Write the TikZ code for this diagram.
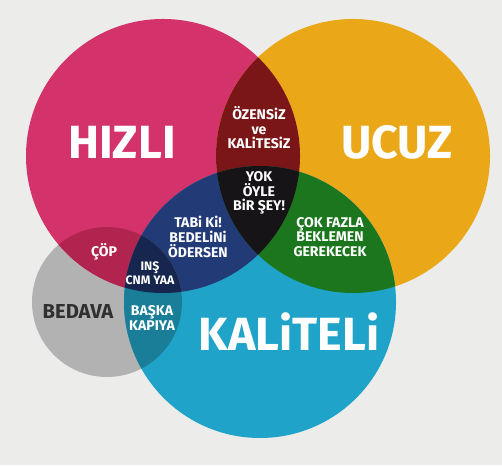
\documentclass[tikz,border=0pt]{standalone}
\usepackage{fontspec}
\setmainfont{Fira Sans}
\usepackage{xcolor}
\definecolor{papercolor}{RGB}{236,236,235}
\definecolor{hizlicolor}{RGB}{211,50,106}
\definecolor{ucuzcolor}{RGB}{234,168,24}
\definecolor{kalitecolor}{RGB}{32,163,200}
\definecolor{bedavacolor}{RGB}{178,178,178}
\definecolor{ozensizcolor}{RGB}{122,22,24}
\definecolor{bedelcolor}{RGB}{34,58,118}
\definecolor{beklecolor}{RGB}{28,118,30}
\definecolor{yokcolor}{RGB}{22,20,22}
\definecolor{copcolor}{RGB}{178,36,80}
\definecolor{kapicolor}{RGB}{26,126,152}
\definecolor{inscolor}{RGB}{22,38,78}
\definecolor{bedavatextcolor}{RGB}{48,48,48}

\newcommand{\hizlicircle}{(163,309) circle (137)}
\newcommand{\ucuzcircle}{(353,309) circle (137)}
\newcommand{\kalitecircle}{(260,163) circle (136)}
\newcommand{\bedavacircle}{(107,163) circle (75)}

\begin{document}
\begin{tikzpicture}[x=0.02cm, y=0.02cm]
  \tikzset{
    biglabel/.style={
      text=white,
      font=\fontsize{26.5}{26.5}\selectfont\bfseries,
      anchor=center
    },
    smalllabel/.style={
      text=white,
      align=center,
      font=\fontsize{8}{8.3}\selectfont\bfseries,
      anchor=center,
      inner sep=0pt
    },
    tinylabel/.style={
      text=white,
      align=center,
      font=\fontsize{7}{6.6}\selectfont\bfseries,
      anchor=center,
      inner sep=0pt
    }
  }

  % Paper
  \fill[papercolor] (0,0) rectangle (502,465);
  \useasboundingbox (0,0) rectangle (502,465);

  % Draw the four circles
  \fill[bedavacolor] \bedavacircle;
  \fill[hizlicolor] \hizlicircle;
  \fill[ucuzcolor] \ucuzcircle;
  \fill[kalitecolor] \kalitecircle;

  % Overlaps of two circles
  \begin{scope}
    \clip \hizlicircle;
    \fill[ozensizcolor] \ucuzcircle;
    \fill[bedelcolor] \kalitecircle;
    \fill[copcolor] \bedavacircle;
  \end{scope}
  \begin{scope}
    \clip \ucuzcircle;
    \fill[beklecolor] \kalitecircle;
  \end{scope}
  \begin{scope}
    \clip \bedavacircle;
    \fill[kapicolor] \kalitecircle;
  \end{scope}

  % Overlaps of three circles
  \begin{scope}
    \clip \hizlicircle;
    \clip \kalitecircle;
    \fill[yokcolor] \ucuzcircle;
    \fill[inscolor] \bedavacircle;
  \end{scope}

  % Labels
  \node[biglabel] (hizli) at (122,323) {HIZLI};
  \node[biglabel] (ucuz) at (397,323) {UCUZ};
  \node[biglabel] (kaliteli) at (289,133) {KALiTELi};
  \node[biglabel, text=bedavatextcolor, font=\fontsize{11.5}{11.5}\selectfont\bfseries] (bedava) at (78,153) {BEDAVA};

  \node[smalllabel] (ozensiz) at (259,337) {ÖZENSiZ\\ve\\KALiTESiZ};
  \node[smalllabel] (yok) at (259,272) {YOK\\ÖYLE\\BiR ŞEY!};
  \node[smalllabel] (bedel) at (198,228) {TABi Ki!\\BEDELiNi\\ÖDERSEN};
  \node[smalllabel] (bekle) at (330,228) {ÇOK FAZLA\\BEKLEMEN\\GEREKECEK};
  \node[smalllabel] (cop) at (104,213) {ÇÖP};
  \node[tinylabel] (ins) at (150,192) {INŞ\\CNM YAA};
  \node[smalllabel] (kapi) at (152,147) {BAŞKA\\KAPIYA};

\end{tikzpicture}
\end{document}
